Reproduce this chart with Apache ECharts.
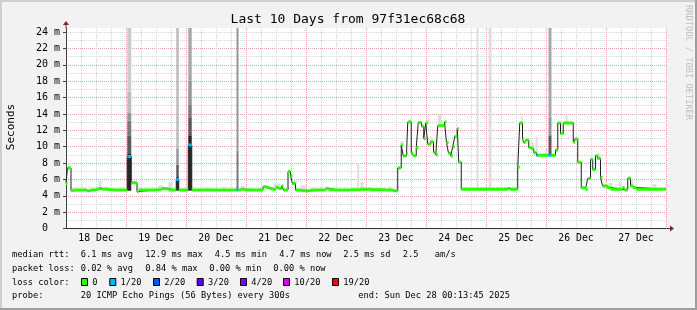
<!DOCTYPE html>
<html><head><meta charset="utf-8">
<script src="https://cdn.jsdelivr.net/npm/echarts@6/dist/echarts.min.js"></script>
<style>html,body{margin:0;padding:0;background:#f2f2f2}#c{width:697px;height:310px}</style>
</head><body><div id="c"></div>
<script>
// ---------------- DATA ----------------
const titleText = 'Last 10 Days from 97f31ec68c68';
const dayLabels = ['18 Dec','19 Dec','20 Dec','21 Dec','22 Dec','23 Dec','24 Dec','25 Dec','26 Dec','27 Dec'];
const dayLabelHours = [12,36,60,84,108,132,156,180,204,228]; // hours after 18 Dec 00:00
const yTickValues = [0,2,4,6,8,10,12,14,16,18,20,22,24];    // ms

// median rtt steps: [start hour, median ms, lost pings of 20]
const median = [
 [0,5.5,0],[0.6,7.4,0],[2.0,4.6,0],[2.6,4.7,0],[8.2,4.6,0],[9.8,4.7,0],[11.8,4.8,0],[13.0,4.9,0],
 [14.6,4.8,0],[17.0,4.75,0],[19.0,4.7,0],[24.5,8.8,1],[26.1,5.6,0],[28.4,4.5,0],[29.0,4.7,0],
 [35.8,4.75,0],[38.2,4.9,0],[39.8,4.85,0],[41.0,4.7,0],[44.1,6.0,1],[45.1,4.7,0],[48.9,10.2,1],
 [50.3,4.7,0],[68.2,4.7,1],[69.0,4.7,0],[69.8,4.8,0],[71.4,4.7,0],[78.8,5.1,0],[80.2,5.0,0],
 [81.4,4.9,0],[82.6,4.8,0],[83.8,5.0,0],[85.0,4.9,0],[86.2,5.2,0],[87.0,4.7,0],[88.8,6.95,0],
 [89.8,6.45,0],[90.6,5.5,0],[91.8,4.7,0],[93.8,4.6,0],[97.8,4.7,0],[103.8,4.9,0],[105.0,4.75,0],
 [107.8,4.7,0],[113.8,4.75,0],[117.8,4.8,0],[121.8,4.75,0],[127.8,4.7,0],[130.6,4.6,0],
 [132.7,7.4,0],[134.1,10.2,0],[134.9,8.85,0],[136.2,9.2,0],[136.7,13.0,0],[138.1,9.2,0],
 [138.9,8.9,0],[140.1,9.9,0],[140.9,12.95,0],[142.2,12.5,0],[143.1,11.0,0],[143.9,12.9,0],
 [144.7,10.3,0],[145.9,10.6,0],[147.0,9.3,0],[147.9,9.0,0],[148.7,12.55,0],[151.4,13.0,0],
 [152.2,10.5,0],[153.0,9.2,0],[153.9,8.85,0],[154.7,10.0,0],[155.5,11.25,0],[156.5,12.2,0],
 [157.1,8.1,0],[158.1,4.8,0],[176.5,4.9,0],[177.5,4.8,0],[180.7,7.5,0],[181.5,12.9,0],
 [182.6,10.9,0],[183.1,10.5,0],[183.9,10.8,0],[185.1,9.9,0],[186.1,9.75,0],[187.1,9.25,0],
 [188.2,8.95,1],[188.9,8.95,0],[193.0,8.95,1],[194.2,8.95,0],[195.8,9.6,0],[196.7,12.9,0],
 [197.8,11.6,0],[198.9,12.9,0],[202.9,10.55,0],[203.7,10.95,0],[204.7,8.1,0],[206.1,4.98,0],
 [207.9,4.8,0],[208.7,6.1,0],[209.8,8.45,0],[210.7,7.2,0],[211.8,8.9,0],[212.7,8.55,0],
 [213.8,6.25,0],[214.6,5.2,0],[216.5,5.0,0],[217.8,4.8,0],[222.6,5.0,0],[223.4,4.7,0],
 [224.7,6.15,0],[225.8,5.2,0],[226.7,5.0,0],[228.1,4.8,0]
];
const endHour = 240;

// smoke bands: [start hour, end hour, low ms, high ms, shade]
const smoke = [
 [24.5,26.1,4.6,9.2,8],[24.5,26.1,9.2,11.4,6],[24.5,26.1,11.4,13.2,5],[24.5,26.1,13.2,14.1,4],
 [24.5,26.1,14.1,16.7,2],[24.5,26.1,16.7,24.5,1],
 [44.1,45.1,4.6,6.3,8],[44.1,45.1,6.3,7.8,6],[44.1,45.1,7.8,9.8,4],[44.1,45.1,9.8,24.5,2],
 [48.9,50.3,4.6,11.4,8],[48.9,50.3,11.4,13.5,6],[48.9,50.3,13.5,15.1,5],[48.9,50.3,15.1,18.1,4],
 [48.9,50.3,18.1,24.5,3],
 [68.2,69.0,4.7,9.5,5],[68.2,69.0,9.5,24.5,4],
 [193.0,194.2,8.95,11.4,6],[193.0,194.2,11.4,13.65,4],[193.0,194.2,13.65,24.5,3],
 [164.2,165.0,4.8,24.5,0],[169.1,170.2,4.8,24.5,0],[116.5,117.3,4.8,8.0,0],
 [13.0,14.2,4.9,5.8,0],[37.0,38.6,4.9,5.3,0],[41.0,42.6,4.7,5.7,0],[55.8,57.0,4.7,5.1,0],
 [62.6,63.8,4.7,5.1,0],[70.2,71.4,4.8,5.2,0],[83.0,85.8,5.0,5.5,0],[91.0,92.6,5.5,5.9,0],
 [93.8,95.8,4.7,5.3,0],[117.8,119.0,4.8,5.7,0],[129.0,130.6,4.7,5.1,0],[133.8,135.0,10.2,10.7,0],
 [137.4,138.2,13.0,13.4,0],[144.2,145.4,12.9,13.4,0],[145.4,146.2,10.6,11.2,0],
 [148.7,150.2,12.55,13.9,0],[151.4,152.2,13.0,13.2,0],[181.9,182.6,12.9,13.65,0],
 [185.8,187.1,9.9,10.5,0],[187.8,188.6,8.95,11.2,0],[191.8,192.6,8.95,9.7,0],
 [199.8,200.6,12.9,13.85,0],[212.6,213.8,8.55,9.2,0],[217.0,218.6,4.8,5.6,0],
 [221.0,222.2,4.8,5.7,0],[225.8,227.0,5.2,5.9,0],[234.6,236.2,4.8,5.4,0]
];

const rttStats = ['6.1 ms avg','12.9 ms max','4.5 ms min','4.7 ms now','2.5 ms sd','2.5','am/s'];
const lossStats = ['0.02 % avg','0.84 % max','0.00 % min','0.00 % now'];
const lossLabels = ['0','1/20','2/20','3/20','4/20','10/20','19/20'];
const probeText = '20 ICMP Echo Pings (56 Bytes) every 300s';
const endText = 'end: Sun Dec 28 00:13:45 2025';

// ---------------- STYLE ----------------
const lossColors = ['#26ff00','#00b8ff','#0059ff','#5e00ff','#7e00ff','#dd00ff','#ff0000'];
const smokeGrays = ['#dedede','#cccccc','#bcbcbc','#a8a8a8','#969696','#7a7a7a','#5a5a5a','#3a3a3a','#262626'];
const MONO = "'DejaVu Sans Mono'";
const G = {left:66, right:31, top:28, bottom:81.5};
const minorC = '#d4d4d4', majorC = '#e3a3a3';

const segs = median.map((m,i)=>[m[0], i+1<median.length ? median[i+1][0] : endHour, m[1], m[2]]);
const lineData = median.map(m=>[m[0], m[1]]).concat([[endHour, median[median.length-1][1]]]);

const chart = echarts.init(document.getElementById('c'), null, {renderer:'canvas', width:697, height:310});

function txt(x, y, s, extra) {
  return Object.assign({type:'text', x:x, y:y, silent:true,
    style:{text:s, font:'8.7px '+MONO, fill:'#000', textAlign:'left', textVerticalAlign:'middle'}}, extra||{});
}
const graphics = [];
// border shading
graphics.push({type:'rect', shape:{x:0,y:0,width:697,height:2}, style:{fill:'#cfcfcf'}, silent:true});
graphics.push({type:'rect', shape:{x:0,y:0,width:2,height:310}, style:{fill:'#cfcfcf'}, silent:true});
graphics.push({type:'rect', shape:{x:0,y:308,width:697,height:2}, style:{fill:'#9e9e9e'}, silent:true});
graphics.push({type:'rect', shape:{x:695,y:0,width:2,height:310}, style:{fill:'#9e9e9e'}, silent:true});
// title
graphics.push(txt(348, 20, titleText, {style:{text:titleText, font:'13px '+MONO, fill:'#000', textAlign:'center', textVerticalAlign:'middle'}}));
// y axis name
graphics.push({type:'text', x:11, y:127, rotation:Math.PI/2, silent:true,
  style:{text:'Seconds', font:'11px '+MONO, fill:'#000', textAlign:'center', textVerticalAlign:'middle'}});
// watermark
graphics.push({type:'text', x:688, y:5, rotation:-Math.PI/2, silent:true,
  style:{text:'RRDTOOL / TOBI OETIKER', font:'8.7px '+MONO, fill:'#c0c0c0', textAlign:'left', textVerticalAlign:'middle'}});
// legend rows
const rttX = [80.7,145.3,214.7,279.3,343.3,402.7,434.7];
graphics.push(txt(12, 255, 'median rtt:'));
rttStats.forEach((s,i)=>graphics.push(txt(rttX[i], 255, s)));
const lossX = [80.7,145.3,209.3,273.3];
graphics.push(txt(12, 268.5, 'packet loss:'));
lossStats.forEach((s,i)=>graphics.push(txt(lossX[i], 268.5, s)));
graphics.push(txt(12, 282.3, 'loss color:'));
const boxX = [81,109.3,153,196.7,240,283,332];
lossLabels.forEach((s,i)=>{
  graphics.push({type:'rect', silent:true, shape:{x:boxX[i]+0.5, y:278.5, width:6, height:7},
    style:{fill:lossColors[i], stroke:'#000', lineWidth:1}});
  graphics.push(txt(boxX[i]+11.3, 282.3, s));
});
graphics.push(txt(12, 296, 'probe:'));
graphics.push(txt(80.7, 296, probeText));
graphics.push(txt(358.3, 296, endText));

const splitDot = (c)=>({show:true, lineStyle:{color:c, width:1, type:[1,1]}});

chart.setOption({
  animation:false,
  backgroundColor:'#f2f2f2',
  grid:{left:G.left, right:G.right, top:G.top, bottom:G.bottom, show:true, backgroundColor:'#ffffff', borderWidth:0},
  xAxis:[
    {type:'value', min:0, max:endHour, interval:6, position:'bottom',
     axisLine:{show:true, onZero:false, lineStyle:{color:'#303030', width:1}},
     axisTick:{show:false},
     axisLabel:{show:true, customValues:dayLabelHours, margin:5,
       formatter:(v)=>dayLabels[dayLabelHours.indexOf(v)] || '',
       fontFamily:'DejaVu Sans Mono', fontSize:9.8, color:'#000'},
     splitLine:Object.assign(splitDot(minorC), {showMinLine:false})},
    {type:'value', min:0, max:endHour, interval:24, position:'bottom',
     axisLine:{show:false}, axisTick:{show:false}, axisLabel:{show:false},
     splitLine:Object.assign(splitDot(majorC), {showMinLine:false})}
  ],
  yAxis:[
    {type:'value', min:0, max:24.5, interval:1,
     axisLine:{show:true, lineStyle:{color:'#404040', width:1}},
     axisTick:{show:false}, axisLabel:{show:false},
     splitLine:Object.assign(splitDot(minorC), {showMinLine:false, showMaxLine:false})},
    {type:'value', min:0, max:24.5, interval:2, position:'left',
     axisLine:{show:false},
     axisTick:{show:true, length:3, customValues:yTickValues, lineStyle:{color:'#404040'}},
     axisLabel:{show:true, customValues:yTickValues, margin:6,
       formatter:(v)=> v===0 ? '0  ' : v+' m',
       fontFamily:'DejaVu Sans Mono', fontSize:10, color:'#000'},
     splitLine:Object.assign(splitDot(majorC), {showMinLine:false, showMaxLine:false})}
  ],
  series:[
    {type:'custom', name:'smoke', xAxisIndex:0, yAxisIndex:0, z:1, clip:true,
     data:smoke, encode:{x:[0,1], y:[2,3]},
     renderItem:(params, api)=>{
       const p0 = api.coord([api.value(0), api.value(3)]);
       const p1 = api.coord([api.value(1), api.value(2)]);
       return {type:'rect', shape:{x:p0[0], y:p0[1], width:p1[0]-p0[0], height:p1[1]-p0[1]},
         style:{fill:smokeGrays[api.value(4)]}};
     }},
    {type:'line', name:'median', xAxisIndex:0, yAxisIndex:0, z:2, step:'end', symbol:'none',
     data:lineData, lineStyle:{color:'#202020', width:1}},
    {type:'custom', name:'loss', xAxisIndex:0, yAxisIndex:0, z:3, clip:true,
     data:segs, encode:{x:[0,1], y:2},
     renderItem:(params, api)=>{
       const p0 = api.coord([api.value(0), api.value(2)]);
       const p1 = api.coord([api.value(1), api.value(2)]);
       return {type:'rect', shape:{x:p0[0], y:p0[1]-1.5, width:p1[0]-p0[0], height:3},
         style:{fill:lossColors[api.value(3)]}};
     }}
  ],
  graphic:graphics
});

// axis arrows positioned from the grid's own pixel mapping
const tl = chart.convertToPixel({gridIndex:0}, [0, 24.5]);
const br = chart.convertToPixel({gridIndex:0}, [endHour, 0]);
const arrowC = '#8b1f1f';
chart.setOption({graphic: graphics.concat([
  {type:'line', silent:true, shape:{x1:tl[0], y1:tl[1], x2:tl[0], y2:tl[1]-3}, style:{stroke:'#404040', lineWidth:1}},
  {type:'polygon', silent:true, shape:{points:[[tl[0]-3,tl[1]-3],[tl[0]+3,tl[1]-3],[tl[0],tl[1]-7]]}, style:{fill:arrowC}},
  {type:'line', silent:true, shape:{x1:br[0], y1:br[1], x2:br[0]+4, y2:br[1]}, style:{stroke:'#303030', lineWidth:1}},
  {type:'polygon', silent:true, shape:{points:[[br[0]+4,br[1]-3],[br[0]+4,br[1]+3],[br[0]+8,br[1]]]}, style:{fill:arrowC}},
  {type:'line', silent:true, shape:{x1:tl[0]-3, y1:br[1], x2:tl[0], y2:br[1]}, style:{stroke:'#303030', lineWidth:1}}
])});
</script></body></html>
